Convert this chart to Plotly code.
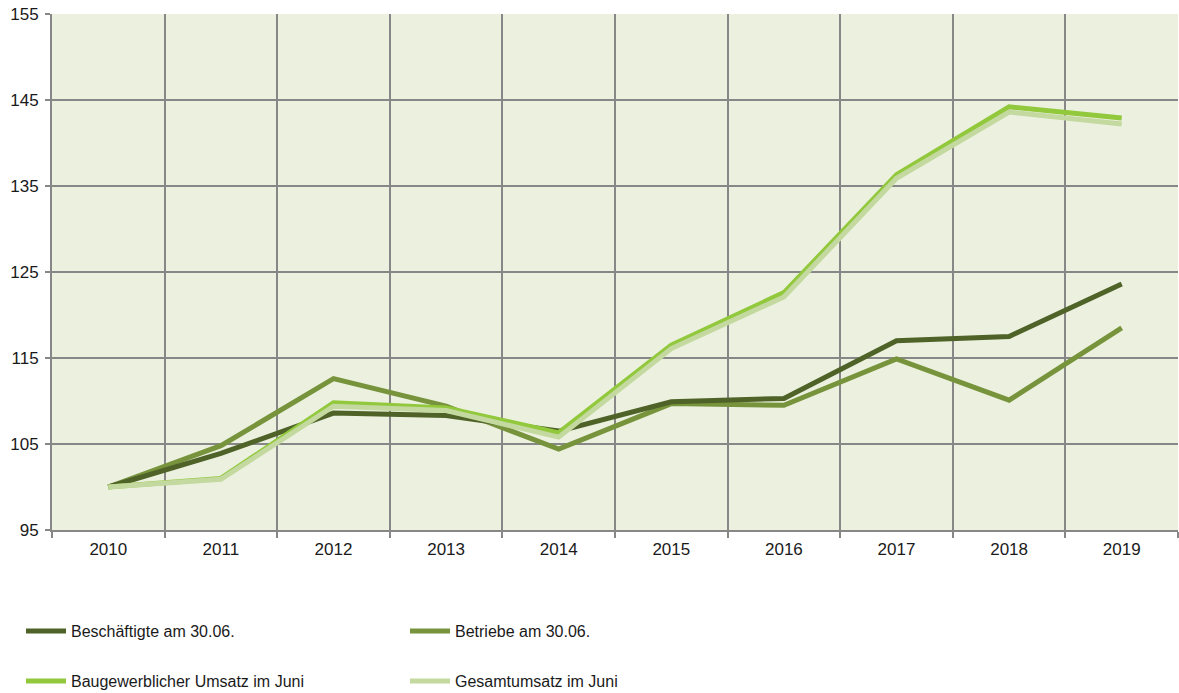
import plotly.graph_objects as go

years = ["2010", "2011", "2012", "2013", "2014", "2015", "2016", "2017", "2018", "2019"]

beschaeftigte = [100.0, 103.9, 108.6, 108.3, 106.5, 109.9, 110.3, 117.0, 117.5, 123.6]
betriebe = [100.0, 104.8, 112.6, 109.4, 104.4, 109.7, 109.5, 114.9, 110.1, 118.5]
bau_umsatz = [100.0, 101.0, 109.8, 109.2, 106.3, 116.5, 122.6, 136.3, 144.2, 142.9]
gesamt_umsatz = [100.0, 100.9, 109.4, 108.9, 105.8, 116.1, 122.1, 135.9, 143.6, 142.2]

y_ticks = [95, 105, 115, 125, 135, 145, 155]

FONT = "Liberation Sans, Arial, sans-serif"
GRID = "#878787"

fig = go.Figure()
fig.add_trace(go.Scatter(x=years, y=betriebe, name="Betriebe am 30.06.", mode="lines",
                         line=dict(color="#77933c", width=5), legend="legend", legendrank=2))
fig.add_trace(go.Scatter(x=years, y=beschaeftigte, name="Beschäftigte am 30.06.", mode="lines",
                         line=dict(color="#4f6228", width=5), legend="legend", legendrank=1))
fig.add_trace(go.Scatter(x=years, y=bau_umsatz, name="Baugewerblicher Umsatz im Juni", mode="lines",
                         line=dict(color="#92c83c", width=5), legend="legend2", legendrank=1))
fig.add_trace(go.Scatter(x=years, y=gesamt_umsatz, name="Gesamtumsatz im Juni", mode="lines",
                         line=dict(color="#c4d9a0", width=5), legend="legend2", legendrank=2))

legend_common = dict(orientation="h", xanchor="left", yanchor="middle",
                     font=dict(family=FONT, size=16, color="#1a1a1a"),
                     bgcolor="rgba(0,0,0,0)", itemwidth=40,
                     entrywidth=329, entrywidthmode="pixels", traceorder="normal")

fig.update_layout(
    width=1179, height=693,
    margin=dict(l=52, r=1, t=14, b=163, autoexpand=False),
    paper_bgcolor="white",
    plot_bgcolor="#ebf1de",
    font=dict(family=FONT, size=16, color="#1a1a1a"),
    showlegend=True,
    legend=dict(x=(21 - 52) / 1126, y=(530 - 631) / 516, **legend_common),
    legend2=dict(x=(21 - 52) / 1126, y=(530 - 681) / 516, **legend_common),
    xaxis=dict(type="category", range=[-0.5, 9.5], tickson="boundaries",
               showgrid=True, gridcolor=GRID, gridwidth=2,
               ticks="outside", ticklen=6, tickcolor=GRID, tickwidth=2,
               ticklabelstandoff=3,
               showline=True, linecolor=GRID, linewidth=2,
               tickfont=dict(family=FONT, size=17, color="#1a1a1a")),
    yaxis=dict(range=[95, 155], tickvals=y_ticks, ticktext=[str(v) for v in y_ticks],
               showgrid=True, gridcolor=GRID, gridwidth=2, zeroline=False,
               ticks="outside", ticklen=5, tickcolor=GRID, tickwidth=2,
               ticklabelstandoff=3,
               showline=True, linecolor=GRID, linewidth=2,
               tickfont=dict(family=FONT, size=17, color="#1a1a1a")),
)

fig.write_html("out.html", config={"displayModeBar": False},
               post_script="document.body.style.margin='0';document.body.style.overflow='hidden';")
